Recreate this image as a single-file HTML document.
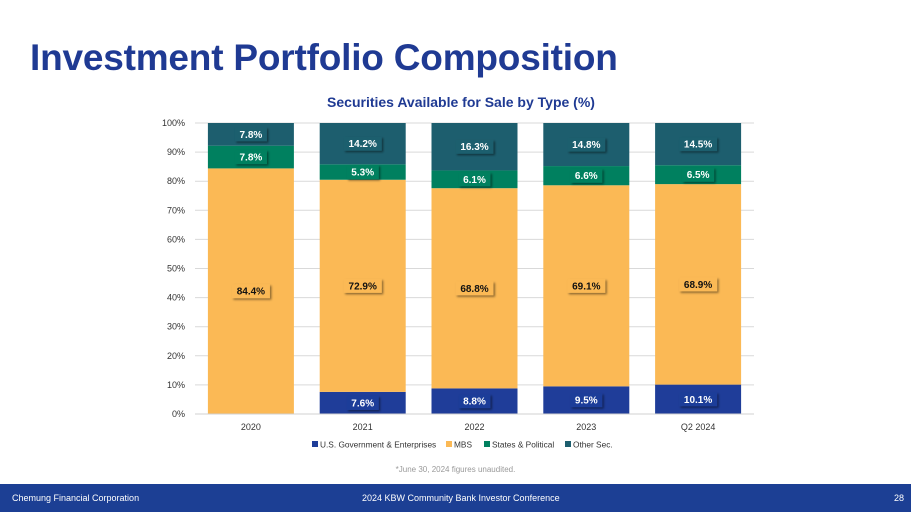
<!DOCTYPE html>
<html><head><meta charset="utf-8"><style>
body{margin:0;width:911px;height:512px;overflow:hidden;background:#fff;font-family:"Liberation Sans",sans-serif;position:relative}
.title{position:absolute;left:30px;top:37px;font-size:37px;font-weight:bold;color:#1f3a93;letter-spacing:-0.2px}
.footer{position:absolute;left:0;top:484px;width:911px;height:28px;background:#1c3f94;color:#fff;font-size:9px}
.footer span{position:absolute;top:9px}
</style></head><body>
<div class="title">Investment Portfolio Composition</div>
<svg id="chart" width="911" height="484" style="position:absolute;left:0;top:0"></svg>
<div style="position:absolute;left:0;top:465px;width:911px;text-align:center;font-size:8px;color:#999">*June 30, 2024 figures unaudited.</div>
<div class="footer">
<span style="left:12px">Chemung Financial Corporation</span>
<span style="left:362px">2024 KBW Community Bank Investor Conference</span>
<span style="left:894px">28</span>
</div>
<script>
const categories=["2020","2021","2022","2023","Q2 2024"];
const usGov=[0,7.6,8.8,9.5,10.1];
const mbs=[84.4,72.9,68.8,69.1,68.9];
const states=[7.8,5.3,6.1,6.6,6.5];
const other=[7.8,14.2,16.3,14.8,14.5];
const yTicks=[0,10,20,30,40,50,60,70,80,90,100];
const seriesNames=["U.S. Government & Enterprises","MBS","States & Political","Other Sec."];
const colors=["#1f3d99","#fbb955","#00805f","#1d5e6e"];
const textColors=["#fff","#111","#fff","#fff"];
const svg=document.getElementById('chart');
const NS="http://www.w3.org/2000/svg";
const y0=414,y1=123,left=195,right=754;
const y=v=>y0-(v/100)*(y0-y1);
const step=(right-left)/categories.length;
const xc=i=>left+step*(i+0.5);
const bw=86;
function mk(t,a,p){const e=document.createElementNS(NS,t);for(const k in a)e.setAttribute(k,a[k]);(p||svg).appendChild(e);return e;}
const defs=mk('defs',{});
defs.innerHTML='<filter id="sh" x="-20%" y="-20%" width="150%" height="160%"><feDropShadow dx="1.5" dy="1.5" stdDeviation="1" flood-color="#000" flood-opacity="0.45"/></filter>';
let t=mk('text',{x:461,y:107,'text-anchor':'middle','font-size':14,'font-weight':'bold',fill:'#1f3a93'});t.textContent="Securities Available for Sale by Type (%)";


yTicks.forEach(v=>{
 const g=mk('line',{x1:left,x2:right,y1:y(v),y2:y(v),stroke:'#d9d9d9','stroke-width':1});
 
 
 const l=mk('text',{x:185,y:y(v)+3,'text-anchor':'end','font-size':9,fill:'#333'});l.textContent=v+'%';
 
 
});
const series=[usGov,mbs,states,other];
categories.forEach((c,i)=>{
 let base=0;
 const segs=[];
 series.forEach((s,k)=>{
  const v=s[i];
  if(v>0){
   const r=mk('rect',{x:xc(i)-bw/2,y:y(base+v),width:bw,height:y(base)-y(base+v),fill:colors[k]});
   
   
   segs.push([k,v,base]);
  }
  base+=v;
 });
 segs.forEach(([k,v,b])=>{
  let cy=y(b+v/2);
  if(cy<134)cy=134;
  const txt=v.toFixed(1)+'%';
  const w=txt.length*6+8;
  const bx=mk('rect',{x:xc(i)-w/2,y:cy-7,width:w,height:14,fill:colors[k],filter:'url(#sh)'});
  
  
  const l=mk('text',{x:xc(i),y:cy+3.5,'text-anchor':'middle','font-size':10,'font-weight':'bold',fill:textColors[k]});
  l.textContent=txt;
  
  
 });
 const xl=mk('text',{x:xc(i),y:430,'text-anchor':'middle','font-size':9,fill:'#333'});xl.textContent=c;
 
 
});
const ax=mk('line',{x1:left,x2:right,y1:y0,y2:y0,stroke:'#d0d0d0'});


const lxs=[312,446,484,565];
seriesNames.forEach((n,k)=>{
 const g=mk('g',{});
 
 
 mk('rect',{x:lxs[k],y:441,width:6,height:6,fill:colors[k]},g);
 const l=mk('text',{x:lxs[k]+8,y:447.5,'font-size':8.3,fill:'#333'},g);l.textContent=n;
});
</script>
</body></html>
